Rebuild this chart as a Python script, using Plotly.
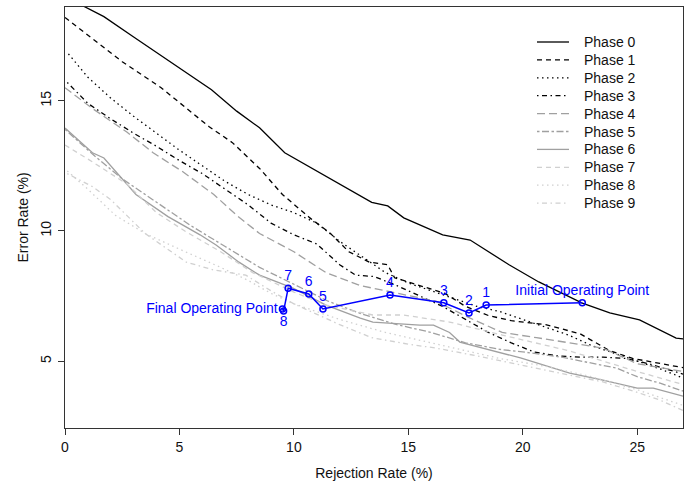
import plotly.graph_objects as go

# ---------------- data ----------------
phase_names = ["Phase 0", "Phase 1", "Phase 2", "Phase 3", "Phase 4",
               "Phase 5", "Phase 6", "Phase 7", "Phase 8", "Phase 9"]

p0_x = [0, 0.9, 1.7, 3.0, 4.5, 6.4, 7.5, 8.5, 9.6, 11.5, 13.4, 14.1, 14.8, 16.5, 17.7, 19.4, 20.7, 22.6, 23.8, 25.1, 26.7, 27.0]
p0_y = [19.0, 18.6, 18.23, 17.45, 16.55, 15.42, 14.6, 13.96, 13.0, 12.05, 11.1, 10.96, 10.5, 9.85, 9.65, 8.7, 8.04, 7.23, 6.85, 6.58, 5.88, 5.85]

p1_x = [0, 1.2, 2.5, 4.2, 6.3, 7.3, 8.5, 9.5, 10.7, 11.6, 12.4, 13.3, 14.1, 14.4, 15.5, 16.6, 17.5, 18.5, 19.5, 21.0, 22.5, 23.8, 24.8, 25.8, 27.0]
p1_y = [18.2, 17.4, 16.5, 15.5, 14.0, 13.4, 12.4, 11.4, 10.5, 9.9, 9.2, 8.8, 8.7, 8.2, 7.9, 7.6, 7.1, 6.75, 6.55, 6.4, 6.05, 5.4, 5.1, 4.95, 4.75]

p2_x = [0.15, 1, 2, 3, 4, 5, 6, 7, 8, 9, 10, 11, 12, 13, 14, 15, 16, 17, 18, 19, 20, 21, 22, 23, 24, 25, 26, 27]
p2_y = [16.8, 15.9, 15.1, 14.4, 13.75, 13.1, 12.5, 11.9, 11.4, 11.0, 10.7, 10.3, 9.6, 9.0, 8.4, 8.0, 7.7, 7.4, 7.1, 6.9, 6.6, 6.3, 6.0, 5.6, 5.3, 5.0, 4.7, 4.35]

p3_x = [0.1, 1, 2, 3, 4, 5, 6, 7, 8, 9, 10, 11, 12, 12.7, 13.5, 14.5, 15.5, 16.5, 17.5, 18.5, 19.5, 20.5, 21.5, 22.5, 23.5, 24.5, 25.5, 26.5, 27]
p3_y = [15.7, 14.9, 14.3, 13.75, 13.25, 12.7, 12.2, 11.6, 11.0, 10.3, 9.85, 9.5, 8.7, 8.3, 8.25, 7.9, 7.5, 7.1, 6.6, 6.1, 5.7, 5.35, 5.2, 5.15, 5.15, 5.1, 4.9, 4.65, 4.5]

p4_x = [0, 1.2, 2.7, 3.85, 5.15, 6.5, 7.5, 8.5, 10, 11.4, 12.9, 14.5, 16.2, 17.7, 19.1, 20.6, 22, 23.5, 25, 26, 27]
p4_y = [15.5, 14.7, 13.8, 13.0, 12.27, 11.4, 10.6, 9.9, 9.2, 8.4, 7.9, 7.6, 7.3, 6.65, 6.1, 5.9, 5.7, 5.5, 4.9, 4.75, 4.6]

p5_x = [0, 1.2, 2.5, 4, 5.5, 7, 8.5, 10, 11.5, 13, 14.5, 16, 17.5, 19, 20.5, 21.7, 24.1, 25, 26, 27]
p5_y = [13.9, 12.95, 12.0, 11.1, 10.2, 9.4, 8.6, 7.95, 7.3, 6.8, 6.4, 6.1, 5.7, 5.45, 5.3, 5.15, 4.73, 4.4, 4.15, 3.85]

p6_x = [0, 1.2, 1.7, 3.1, 4.5, 5.9, 6.6, 7.6, 8.5, 9.25, 9.96, 11.4, 12.9, 13.45, 15.5, 16.1, 16.8, 17.25, 18.1, 19.9, 22.05, 23.5, 25, 25.7, 27]
p6_y = [13.95, 13.0, 12.8, 11.4, 10.55, 9.85, 9.46, 8.8, 8.3, 8.04, 7.8, 7.15, 6.65, 6.5, 6.38, 6.38, 6.1, 5.73, 5.54, 5.12, 4.54, 4.27, 3.96, 3.96, 3.65]

p7_x = [0, 1.2, 2.7, 4.0, 5.3, 6.8, 8.2, 10, 11.4, 13.45, 14.8, 16.8, 19.1, 22, 25, 27]
p7_y = [13.3, 12.65, 11.8, 10.7, 9.96, 9.2, 8.4, 7.65, 7.15, 6.77, 6.77, 6.5, 6.0, 5.4, 4.6, 4.1]

p8_x = [0.1, 1, 2.2, 3.5, 5, 6.8, 8, 9, 10, 11, 12, 13, 14, 15, 16, 17, 18, 19, 20, 21, 22, 23, 24, 25, 26, 27]
p8_y = [12.3, 11.6, 10.6, 9.9, 9.3, 8.6, 8.1, 7.6, 7.2, 6.9, 6.6, 6.35, 6.1, 5.9, 5.7, 5.5, 5.3, 5.1, 4.95, 4.8, 4.6, 4.4, 4.15, 3.9, 3.6, 3.3]

p9_x = [0.1, 1.2, 2.0, 3.5, 5.3, 6.5, 7.9, 9, 10, 11, 12, 13.4, 15, 16.2, 18, 19.9, 21.5, 23.5, 25, 26, 27]
p9_y = [12.2, 11.7, 11.2, 9.9, 8.8, 8.5, 8.3, 7.7, 7.2, 6.8, 6.4, 5.9, 5.65, 5.5, 5.2, 4.85, 4.55, 4.2, 3.8, 3.5, 3.1]

phase_x = [p0_x, p1_x, p2_x, p3_x, p4_x, p5_x, p6_x, p7_x, p8_x, p9_x]
phase_y = [p0_y, p1_y, p2_y, p3_y, p4_y, p5_y, p6_y, p7_y, p8_y, p9_y]

# operating point trajectory
op_x = [22.6, 18.4, 17.65, 16.55, 14.2, 11.27, 10.65, 9.75, 9.55, 9.5]
op_y = [7.24, 7.15, 6.85, 7.24, 7.54, 7.0, 7.58, 7.8, 6.92, 7.0]
op_labels = ["Initial Operating Point", "1", "2", "3", "4", "5", "6", "7", "8", "Final Operating Point"]

x_ticks = [0, 5, 10, 15, 20, 25]
y_ticks = [5, 10, 15]

# ---------------- styles ----------------
BLACK = "#000000"
GRAY = "#a0a0a0"
LIGHT = "#d0d0d0"
colors = [BLACK, BLACK, BLACK, BLACK, GRAY, GRAY, GRAY, LIGHT, LIGHT, LIGHT]
dashed = "5px,4px"
dotted = "1.5px,3.5px"
dotdash = "1.5px,3.5px,5px,3.5px"
longdash = "8px,4px"
twodash = "2.5px,2.5px,7px,2.5px"
dashes = ["solid", dashed, dotted, dotdash, longdash, twodash, "solid", dashed, dotted, dotdash]

FONT = "Liberation Sans, Arial, Helvetica, sans-serif"
TXT = "#111111"
BLUE = "#0000ff"
AXC = "#333333"

fig = go.Figure()
for name, xs, ys, c, d in zip(phase_names, phase_x, phase_y, colors, dashes):
    fig.add_trace(go.Scatter(x=xs, y=ys, mode="lines", name=name, showlegend=False,
                             line=dict(color=c, width=1.3, dash=d)))

positions = ["top center"] * 8 + ["bottom center", "middle left"]
fig.add_trace(go.Scatter(x=op_x, y=op_y, mode="lines+markers+text", showlegend=False,
                         text=op_labels, textposition=positions,
                         textfont=dict(family=FONT, size=14, color=BLUE),
                         line=dict(color=BLUE, width=1.5),
                         marker=dict(symbol="circle-open", size=6, color=BLUE,
                                     line=dict(width=1.5, color=BLUE))))

# ---- legend (drawn in paper coordinates to match the reference spacing) ----
PLOT_L, PLOT_R, PLOT_T, PLOT_B = 65, 683, 7, 428
W, H = PLOT_R - PLOT_L, PLOT_B - PLOT_T
def px2paper_x(px):
    return (px - PLOT_L) / W
def px2paper_y(py):
    return (PLOT_B - py) / H

leg_line_x0, leg_line_x1, leg_text_x = 537, 569, 582
leg_y0, leg_dy = 42, 17.9
for i, (name, c, d) in enumerate(zip(phase_names, colors, dashes)):
    py = leg_y0 + leg_dy * i
    fig.add_shape(type="line", xref="paper", yref="paper",
                  x0=px2paper_x(leg_line_x0), x1=px2paper_x(leg_line_x1),
                  y0=px2paper_y(py), y1=px2paper_y(py),
                  line=dict(color=c, width=1.3, dash=d))
    fig.add_annotation(xref="paper", yref="paper", x=px2paper_x(leg_text_x), y=px2paper_y(py),
                       text=name, showarrow=False, xanchor="left", yanchor="middle",
                       font=dict(family=FONT, size=14, color=TXT))

# y-axis title placed like the reference
fig.add_annotation(xref="paper", yref="paper", x=px2paper_x(22), y=0.5,
                   text="Error Rate (%)", textangle=-90, showarrow=False,
                   xanchor="center", yanchor="middle",
                   font=dict(family=FONT, size=14, color=TXT))

axis_common = dict(showline=True, mirror=True, linecolor=AXC, linewidth=1,
                   ticks="outside", ticklen=6, tickcolor=AXC, showgrid=False,
                   zeroline=False, automargin=False,
                   tickfont=dict(family=FONT, size=14, color=TXT))

fig.update_layout(
    width=691, height=481,
    margin=dict(l=PLOT_L, r=691 - PLOT_R, t=PLOT_T, b=481 - PLOT_B),
    paper_bgcolor="white", plot_bgcolor="white",
    font=dict(family=FONT, size=14, color=TXT),
    showlegend=False,
    xaxis=dict(range=[0, 27], tickvals=x_ticks,
               title=dict(text="Rejection Rate (%)", font=dict(family=FONT, size=14, color=TXT)),
               **axis_common),
    yaxis=dict(range=[2.43, 18.6], tickvals=y_ticks, tickangle=-90, ticklabelstandoff=1,
               **axis_common),
)

fig.write_html("out.html", config={"displayModeBar": False},
               post_script="document.body.style.margin='0';document.body.style.overflow='hidden';")
